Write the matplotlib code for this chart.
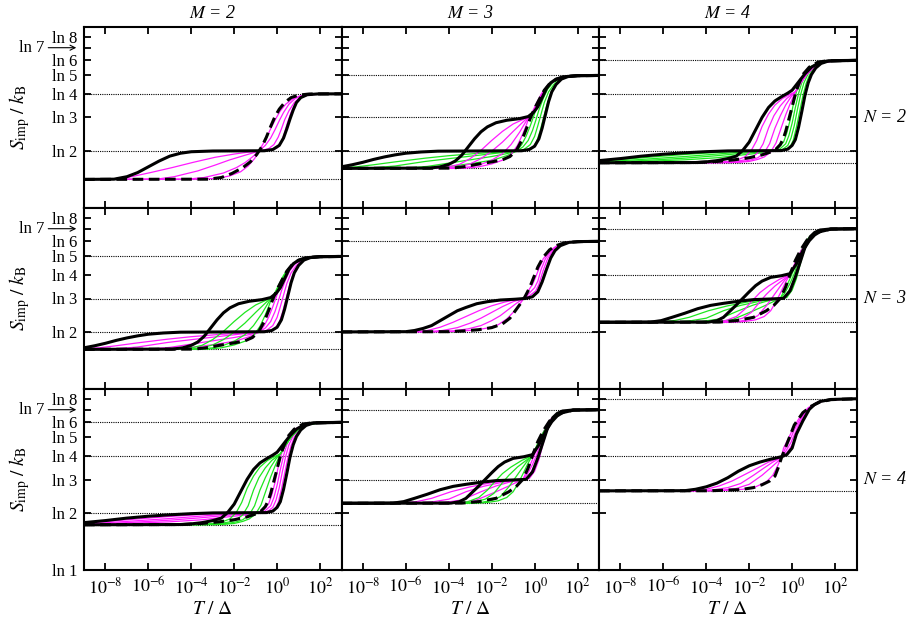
import numpy as np
import matplotlib
matplotlib.use("Agg")
import matplotlib.pyplot as plt

plt.rcParams['font.family'] = ['Liberation Serif', 'DejaVu Serif']
plt.rcParams['mathtext.fontset'] = 'stix'

#%% channel numbers and axis ticks
M_list = [2, 3, 4]
N_list = [2, 3, 4]
x_ticks = [1e-8, 1e-6, 1e-4, 1e-2, 1e0, 1e2]
x_ticklabels = [r'$10^{-8}$', r'$10^{-6}$', r'$10^{-4}$', r'$10^{-2}$', r'$10^{0}$', r'$10^{2}$']
y_tick_n = [1, 2, 3, 4, 5, 6, 7, 8]

#%% curves as (log10 T/Delta, S_imp/kB) pairs
# M = N = 2
lev22 = [np.log(4), np.log(2), 0.347]
sol22 = [(-9, .347), (-7.6, .35), (-7.0, .38), (-6.5, .43), (-6.0, .50), (-5.5, .57), (-5.0, .63), (-4.5, .665),
         (-4.0, .683), (-3.0, .692), (-0.6, .695), (-0.2, .71), (0.1, .76), (0.3, .85), (0.45, .96), (0.6, 1.08),
         (0.75, 1.19), (0.9, 1.28), (1.1, 1.34), (1.4, 1.375), (1.9, 1.385), (3, 1.386)]
dash22 = [(-9, .347), (-3.2, .35), (-2.6, .37), (-2.1, .42), (-1.6, .49), (-1.25, .56), (-0.95, .65), (-0.7, .75),
          (-0.5, .86), (-0.3, .99), (-0.1, 1.11), (0.1, 1.20), (0.35, 1.28), (0.65, 1.34), (1.0, 1.37), (1.5, 1.384),
          (3, 1.386)]
thin22 = [
    [(-9, .347), (-7.4, .35), (-6.8, .38), (-5.9, .43), (-4.9, .49), (-3.9, .555), (-2.9, .615), (-2.0, .655),
     (-1.3, .68), (-0.85, .69), (-0.3, .705), (0, .73), (0.2, .80), (0.35, .92), (0.5, 1.05), (0.65, 1.16),
     (0.85, 1.27), (1.1, 1.34), (1.5, 1.377), (3, 1.386)],
    [(-9, .347), (-5.6, .35), (-4.8, .38), (-3.7, .45), (-2.9, .52), (-2.2, .585), (-1.5, .64), (-0.85, .69),
     (-0.4, .72), (-0.15, .77), (0.05, .86), (0.2, .96), (0.35, 1.07), (0.55, 1.18), (0.8, 1.28), (1.05, 1.34),
     (1.5, 1.378), (3, 1.386)],
    [(-9, .347), (-4.2, .35), (-3.4, .37), (-2.5, .425), (-1.9, .49), (-1.5, .55), (-1.15, .62), (-0.85, .69),
     (-0.55, .76), (-0.3, .85), (-0.1, .95), (0.1, 1.06), (0.3, 1.16), (0.55, 1.26), (0.85, 1.33), (1.2, 1.368),
     (1.7, 1.383), (3, 1.386)],
    [(-9, .347), (-3.6, .35), (-2.8, .36), (-2.2, .39), (-1.7, .44), (-1.35, .51), (-1.05, .60), (-0.85, .69),
     (-0.65, .78), (-0.45, .88), (-0.25, .99), (-0.05, 1.09), (0.15, 1.18), (0.4, 1.26), (0.7, 1.32), (1.05, 1.36),
     (1.6, 1.382), (3, 1.386)],
]

# M, N = 3, 2 (and 2, 3)
lev32 = [np.log(5), np.log(3), np.log(2), 0.481]
sol32_a = [(-9, .50), (-8.5, .525), (-8, .555), (-7.5, .59), (-7, .62), (-6.5, .645), (-6, .665), (-5.3, .68),
           (-4.5, .69), (-0.6, .695), (-0.25, .71), (0, .75), (0.2, .84), (0.35, .97), (0.5, 1.13), (0.65, 1.29),
           (0.8, 1.41), (1.0, 1.50), (1.25, 1.565), (1.55, 1.595), (2, 1.606), (3, 1.609)]
sol32_b = [(-9, .481), (-4.9, .484), (-4.4, .50), (-4.0, .53), (-3.7, .57), (-3.4, .64), (-3.1, .74), (-2.8, .84),
           (-2.5, .925), (-2.2, .985), (-1.8, 1.035), (-1.3, 1.065), (-0.7, 1.085), (-0.3, 1.11), (-0.05, 1.16),
           (0.15, 1.23), (0.35, 1.34), (0.55, 1.45), (0.75, 1.52), (1.0, 1.565), (1.35, 1.593), (2, 1.607), (3, 1.609)]
dash32 = [(-9, .481), (-3.9, .484), (-3.3, .50), (-2.7, .53), (-2.0, .56), (-1.5, .585), (-1.15, .625), (-0.85, .70),
          (-0.6, .82), (-0.4, .95), (-0.2, 1.09), (0, 1.21), (0.2, 1.31), (0.45, 1.43), (0.7, 1.51), (1.0, 1.56),
          (1.4, 1.595), (2, 1.606), (3, 1.609)]
thin32_a = [
    [(-9, .49), (-8.3, .50), (-7.5, .525), (-6.5, .56), (-5.1, .605), (-4, .635), (-2.8, .66), (-1.6, .68),
     (-0.85, .69), (-0.4, .70), (-0.1, .73), (0.1, .81), (0.25, .93), (0.4, 1.08), (0.55, 1.23), (0.7, 1.36),
     (0.9, 1.47), (1.15, 1.55), (1.5, 1.594), (2, 1.606), (3, 1.609)],
    [(-9, .484), (-7.5, .488), (-6.5, .51), (-5.1, .565), (-3.8, .605), (-2.8, .635), (-1.6, .67), (-0.85, .69),
     (-0.5, .71), (-0.2, .77), (0, .87), (0.15, 1.0), (0.3, 1.14), (0.45, 1.28), (0.65, 1.41), (0.9, 1.50),
     (1.2, 1.565), (1.6, 1.598), (3, 1.609)],
    [(-9, .481), (-6, .484), (-5, .505), (-4, .545), (-3, .585), (-2, .625), (-1.3, .66), (-0.85, .69),
     (-0.55, .74), (-0.3, .82), (-0.1, .94), (0.05, 1.06), (0.2, 1.19), (0.4, 1.33), (0.6, 1.44), (0.85, 1.52),
     (1.2, 1.57), (1.6, 1.599), (3, 1.609)],
    [(-9, .481), (-4.7, .484), (-3.8, .51), (-2.8, .545), (-1.9, .585), (-1.3, .635), (-0.85, .69), (-0.6, .77),
     (-0.4, .87), (-0.2, 1.0), (-0.05, 1.11), (0.1, 1.23), (0.3, 1.36), (0.55, 1.47), (0.8, 1.53), (1.2, 1.575),
     (1.6, 1.6), (3, 1.609)],
]
thin32_b = [
    [(-9, .481), (-4.5, .484), (-4.0, .50), (-3.5, .53), (-3.0, .60), (-2.5, .70), (-2.0, .82), (-1.5, .93),
     (-1.0, 1.02), (-0.5, 1.08), (-0.25, 1.115), (0, 1.18), (0.2, 1.28), (0.45, 1.41), (0.7, 1.50), (1.0, 1.56),
     (1.4, 1.595), (3, 1.609)],
    [(-9, .481), (-4.0, .484), (-3.5, .50), (-3.0, .535), (-2.5, .60), (-2.0, .69), (-1.5, .80), (-1.0, .93),
     (-0.6, 1.03), (-0.25, 1.115), (-0.05, 1.17), (0.15, 1.27), (0.4, 1.40), (0.65, 1.49), (1.0, 1.56),
     (1.4, 1.595), (3, 1.609)],
    [(-9, .481), (-3.6, .484), (-3.0, .50), (-2.5, .53), (-2.0, .58), (-1.5, .66), (-1.1, .77), (-0.7, .92),
     (-0.45, 1.03), (-0.25, 1.115), (-0.1, 1.16), (0.1, 1.26), (0.35, 1.39), (0.6, 1.48), (1.0, 1.56),
     (1.4, 1.595), (3, 1.609)],
    [(-9, .481), (-3.2, .484), (-2.6, .50), (-2.0, .535), (-1.5, .58), (-1.1, .65), (-0.8, .76), (-0.55, .90),
     (-0.38, 1.01), (-0.25, 1.115), (-0.12, 1.16), (0.05, 1.25), (0.3, 1.38), (0.55, 1.47), (0.95, 1.555),
     (1.4, 1.595), (3, 1.609)],
]

# M, N = 4, 2 (and 2, 4)
lev42 = [np.log(6), np.log(4), np.log(2), 0.549]
sol42_a = [(-9, .575), (-8, .60), (-7, .63), (-6, .653), (-5, .67), (-4, .684), (-3, .693), (-0.5, .697),
           (-0.2, .715), (0, .76), (0.15, .83), (0.3, .98), (0.45, 1.17), (0.6, 1.37), (0.75, 1.52), (0.9, 1.62),
           (1.1, 1.70), (1.35, 1.755), (1.7, 1.785), (3, 1.792)]
sol42_b = [(-9, .549), (-4.5, .552), (-4.0, .56), (-3.5, .575), (-3, .60), (-2.6, .63), (-2.3, .70), (-2.0, .80),
           (-1.7, .95), (-1.4, 1.10), (-1.1, 1.22), (-0.8, 1.30), (-0.5, 1.35), (-0.2, 1.395), (0, 1.43),
           (0.3, 1.53), (0.6, 1.63), (0.9, 1.71), (1.2, 1.755), (1.6, 1.783), (2.2, 1.79), (3, 1.792)]
dash42 = [(-9, .549), (-4.4, .552), (-3.5, .565), (-2.7, .585), (-2.0, .61), (-1.4, .645), (-1.0, .68), (-0.75, .715),
          (-0.55, .77), (-0.4, .85), (-0.3, .93), (-0.15, 1.08), (0, 1.23), (0.15, 1.38), (0.3, 1.50), (0.5, 1.62),
          (0.8, 1.71), (1.2, 1.77), (1.6, 1.786), (3, 1.792)]
thin42_a = [
    [(-9, .565), (-7, .61), (-5, .65), (-3.5, .675), (-2.3, .69), (-1.0, .695), (-0.4, .70), (-0.1, .74),
     (0.05, .82), (0.2, .98), (0.35, 1.17), (0.5, 1.36), (0.65, 1.51), (0.8, 1.61), (1.0, 1.69), (1.3, 1.75),
     (1.7, 1.785), (3, 1.792)],
    [(-9, .557), (-7, .59), (-5, .625), (-3.5, .655), (-2.3, .68), (-1.2, .69), (-0.5, .70), (-0.2, .76),
     (-0.05, .85), (0.1, 1.0), (0.25, 1.2), (0.4, 1.38), (0.55, 1.52), (0.75, 1.63), (1.0, 1.70), (1.3, 1.755),
     (1.7, 1.786), (3, 1.792)],
    [(-9, .553), (-7, .575), (-5, .605), (-3.5, .635), (-2.3, .665), (-1.2, .685), (-0.6, .71), (-0.3, .78),
     (-0.15, .88), (0, 1.03), (0.15, 1.22), (0.3, 1.39), (0.45, 1.52), (0.65, 1.63), (0.95, 1.71), (1.3, 1.76),
     (1.7, 1.787), (3, 1.792)],
    [(-9, .55), (-7, .565), (-5, .585), (-3.5, .61), (-2.3, .645), (-1.2, .675), (-0.7, .715), (-0.4, .80),
     (-0.25, .91), (-0.1, 1.06), (0.05, 1.25), (0.2, 1.41), (0.35, 1.52), (0.55, 1.63), (0.9, 1.72), (1.3, 1.765),
     (1.7, 1.788), (3, 1.792)],
]
thin42_b = [
    [(-9, .549), (-3.6, .552), (-3.0, .565), (-2.5, .59), (-2.2, .62), (-1.9, .70), (-1.65, .82), (-1.4, .99),
     (-1.1, 1.14), (-0.8, 1.25), (-0.45, 1.33), (-0.1, 1.38), (0.15, 1.41), (0.4, 1.52), (0.7, 1.63), (1.0, 1.71),
     (1.4, 1.765), (2, 1.788), (3, 1.792)],
    [(-9, .549), (-3.2, .552), (-2.6, .565), (-2.2, .585), (-1.9, .61), (-1.6, .67), (-1.35, .78), (-1.1, .97),
     (-0.85, 1.12), (-0.55, 1.24), (-0.25, 1.33), (0.15, 1.41), (0.4, 1.52), (0.7, 1.63), (1.0, 1.71),
     (1.4, 1.765), (2, 1.788), (3, 1.792)],
    [(-9, .549), (-2.9, .552), (-2.3, .565), (-1.9, .585), (-1.6, .61), (-1.3, .67), (-1.05, .78), (-0.8, .97),
     (-0.55, 1.12), (-0.3, 1.25), (-0.05, 1.35), (0.15, 1.41), (0.4, 1.52), (0.7, 1.63), (1.0, 1.71),
     (1.4, 1.765), (2, 1.788), (3, 1.792)],
    [(-9, .549), (-2.6, .552), (-2.0, .565), (-1.6, .59), (-1.3, .62), (-1.0, .68), (-0.75, .79), (-0.5, .98),
     (-0.3, 1.13), (-0.1, 1.26), (0.05, 1.35), (0.15, 1.41), (0.4, 1.52), (0.7, 1.63), (1.0, 1.71),
     (1.4, 1.765), (2, 1.788), (3, 1.792)],
]

# M = N = 3
lev33 = [np.log(6), np.log(3), np.log(2)]
sol33 = [(-9, .693), (-6.0, .696), (-5.6, .71), (-5.2, .735), (-4.8, .77), (-4.4, .83), (-4.0, .89), (-3.6, .95),
         (-3.2, .99), (-2.7, 1.035), (-2.2, 1.06), (-1.6, 1.08), (-0.9, 1.09), (-0.4, 1.10), (-0.1, 1.12),
         (0.15, 1.18), (0.35, 1.30), (0.55, 1.45), (0.75, 1.59), (0.95, 1.68), (1.2, 1.74), (1.6, 1.78), (2.2, 1.79),
         (3, 1.792)]
dash33 = [(-9, .693), (-4.0, .696), (-3.3, .705), (-2.6, .72), (-2.0, .745), (-1.5, .79), (-1.15, .86), (-0.9, .95),
          (-0.65, 1.04), (-0.45, 1.12), (-0.25, 1.22), (-0.05, 1.35), (0.15, 1.48), (0.4, 1.60), (0.7, 1.69),
          (1.0, 1.74), (1.4, 1.775), (2, 1.789), (3, 1.792)]
thin33 = [
    [(-9, .693), (-5.6, .696), (-5.0, .71), (-4.4, .75), (-3.8, .81), (-3.2, .88), (-2.6, .95), (-2.0, 1.01),
     (-1.4, 1.055), (-0.9, 1.085), (-0.5, 1.10), (-0.2, 1.11), (0.1, 1.16), (0.3, 1.28), (0.5, 1.44), (0.7, 1.58),
     (0.9, 1.67), (1.2, 1.74), (1.6, 1.78), (3, 1.792)],
    [(-9, .693), (-5.0, .696), (-4.3, .71), (-3.6, .745), (-3.0, .80), (-2.5, .86), (-2.0, .93), (-1.5, 1.0),
     (-1.0, 1.06), (-0.5, 1.10), (-0.25, 1.13), (0.05, 1.19), (0.2, 1.27), (0.4, 1.44), (0.6, 1.58), (0.85, 1.68),
     (1.2, 1.745), (1.6, 1.78), (3, 1.792)],
    [(-9, .693), (-4.6, .696), (-3.8, .705), (-3.1, .73), (-2.5, .77), (-2.0, .83), (-1.6, .89), (-1.2, .97),
     (-0.85, 1.04), (-0.5, 1.10), (-0.3, 1.15), (0, 1.23), (0.15, 1.31), (0.3, 1.45), (0.5, 1.58), (0.75, 1.67),
     (1.1, 1.74), (1.6, 1.782), (3, 1.792)],
    [(-9, .693), (-4.3, .696), (-3.5, .702), (-2.8, .715), (-2.2, .74), (-1.7, .78), (-1.3, .85), (-1.0, .93),
     (-0.75, 1.01), (-0.5, 1.10), (-0.35, 1.17), (-0.1, 1.27), (0.05, 1.36), (0.2, 1.46), (0.4, 1.58),
     (0.7, 1.68), (1.05, 1.74), (1.5, 1.78), (3, 1.792)],
]

# M, N = 4, 3 (and 3, 4)
lev43 = [np.log(7), np.log(4), np.log(3), 0.810]
sol43_a = [(-9, .81), (-6.6, .812), (-6.1, .83), (-5.6, .87), (-5.0, .92), (-4.4, .975), (-3.8, 1.015), (-3.2, 1.04),
           (-2.5, 1.065), (-1.8, 1.085), (-1.0, 1.093), (-0.4, 1.10), (-0.1, 1.19), (0.15, 1.36), (0.4, 1.56),
           (0.6, 1.72), (0.85, 1.85), (1.05, 1.90), (1.3, 1.93), (1.8, 1.943), (3, 1.946)]
sol43_b = [(-9, .81), (-3.9, .812), (-3.5, .83), (-3.2, .87), (-2.9, .945), (-2.6, 1.02), (-2.3, 1.10), (-2.0, 1.18),
           (-1.7, 1.255), (-1.4, 1.31), (-1.0, 1.355), (-0.5, 1.375), (-0.1, 1.40), (0.2, 1.52), (0.5, 1.68),
           (0.8, 1.80), (1.05, 1.87), (1.3, 1.91), (1.8, 1.94), (3, 1.946)]
dash43 = [(-9, .81), (-3.4, .812), (-2.6, .83), (-1.8, .87), (-1.2, .95), (-0.85, 1.016), (-0.55, 1.10), (-0.3, 1.24),
          (-0.1, 1.39), (0.15, 1.56), (0.4, 1.69), (0.7, 1.81), (1.15, 1.90), (1.8, 1.942), (3, 1.946)]
thin43_a = [
    [(-9, .81), (-6.2, .812), (-5.5, .83), (-4.8, .87), (-3.9, .95), (-3.0, 1.01), (-2.0, 1.06), (-1.2, 1.085),
     (-0.55, 1.10), (-0.25, 1.11), (0, 1.20), (0.2, 1.34), (0.37, 1.51), (0.55, 1.67), (0.75, 1.79), (1.0, 1.87),
     (1.3, 1.92), (1.8, 1.94), (3, 1.946)],
    [(-9, .81), (-5.6, .812), (-4.8, .825), (-4.0, .86), (-3.2, .95), (-2.4, 1.015), (-1.6, 1.06), (-1.0, 1.085),
     (-0.55, 1.10), (-0.3, 1.13), (-0.05, 1.24), (0.15, 1.37), (0.32, 1.53), (0.5, 1.67), (0.7, 1.79),
     (0.95, 1.87), (1.3, 1.92), (1.8, 1.941), (3, 1.946)],
    [(-9, .81), (-5.0, .812), (-4.2, .82), (-3.4, .85), (-2.5, .95), (-1.8, 1.02), (-1.2, 1.065), (-0.55, 1.10),
     (-0.35, 1.16), (-0.1, 1.28), (0.1, 1.40), (0.27, 1.54), (0.45, 1.67), (0.65, 1.78), (0.9, 1.86),
     (1.25, 1.92), (1.8, 1.941), (3, 1.946)],
    [(-9, .81), (-4.5, .812), (-3.6, .818), (-2.8, .84), (-1.8, .95), (-1.2, 1.02), (-0.8, 1.07), (-0.55, 1.10),
     (-0.4, 1.18), (-0.15, 1.31), (0.05, 1.43), (0.22, 1.55), (0.4, 1.67), (0.6, 1.78), (0.85, 1.86),
     (1.2, 1.915), (1.8, 1.941), (3, 1.946)],
]
thin43_b = [
    [(-9, .81), (-3.6, .812), (-3.1, .83), (-2.6, .88), (-2.2, .97), (-1.9, 1.06), (-1.5, 1.17), (-1.1, 1.25),
     (-0.6, 1.33), (-0.1, 1.39), (0.15, 1.51), (0.4, 1.64), (0.7, 1.78), (1.0, 1.87), (1.4, 1.925), (2, 1.943),
     (3, 1.946)],
    [(-9, .81), (-3.3, .812), (-2.8, .825), (-2.3, .86), (-1.9, .93), (-1.5, 1.06), (-1.2, 1.15), (-0.8, 1.25),
     (-0.4, 1.33), (-0.1, 1.39), (0.15, 1.52), (0.4, 1.65), (0.7, 1.79), (1.0, 1.87), (1.4, 1.925), (2, 1.943),
     (3, 1.946)],
    [(-9, .81), (-3.0, .812), (-2.5, .82), (-2.0, .845), (-1.6, .89), (-1.2, 1.01), (-0.9, 1.12), (-0.6, 1.23),
     (-0.35, 1.32), (-0.1, 1.39), (0.15, 1.53), (0.4, 1.66), (0.7, 1.79), (1.0, 1.87), (1.4, 1.925), (2, 1.943),
     (3, 1.946)],
    [(-9, .81), (-2.8, .812), (-2.2, .82), (-1.7, .84), (-1.3, .88), (-1.0, .95), (-0.75, 1.06), (-0.5, 1.19),
     (-0.3, 1.30), (-0.1, 1.39), (0.15, 1.54), (0.4, 1.67), (0.7, 1.80), (1.0, 1.875), (1.4, 1.927), (2, 1.944),
     (3, 1.946)],
]

# M = N = 4
lev44 = [np.log(8), np.log(4), 0.961]
sol44 = [(-9, .961), (-5.0, .963), (-4.5, .98), (-4.0, 1.01), (-3.5, 1.055), (-3.0, 1.12), (-2.5, 1.20),
         (-2.0, 1.265), (-1.5, 1.31), (-1.0, 1.345), (-0.5, 1.375), (-0.25, 1.40), (0, 1.48), (0.2, 1.65),
         (0.5, 1.81), (0.8, 1.95), (1.05, 2.01), (1.3, 2.045), (1.8, 2.07), (3, 2.079)]
dash44 = [(-9, .961), (-3.8, .962), (-2.4, .976), (-1.8, 1.0), (-1.4, 1.035), (-1.05, 1.08), (-0.8, 1.14),
          (-0.65, 1.24), (-0.5, 1.36), (-0.2, 1.56), (0.1, 1.76), (0.5, 1.91), (0.9, 1.99), (1.3, 2.04), (1.8, 2.068),
          (3, 2.079)]
thin44 = [
    [(-9, .961), (-4.6, .963), (-4.0, .98), (-3.4, 1.02), (-2.8, 1.08), (-2.2, 1.16), (-1.6, 1.24), (-1.1, 1.31),
     (-0.5, 1.37), (-0.25, 1.42), (0, 1.52), (0.2, 1.64), (0.4, 1.78), (0.6, 1.89), (0.85, 1.97), (1.2, 2.035),
     (1.7, 2.066), (3, 2.079)],
    [(-9, .961), (-4.2, .963), (-3.6, .975), (-3.0, 1.0), (-2.4, 1.05), (-1.8, 1.15), (-1.3, 1.24), (-0.9, 1.31),
     (-0.5, 1.37), (-0.3, 1.44), (-0.05, 1.55), (0.15, 1.67), (0.35, 1.79), (0.55, 1.89), (0.8, 1.97),
     (1.2, 2.035), (1.7, 2.066), (3, 2.079)],
    [(-9, .961), (-3.9, .963), (-3.2, .97), (-2.6, .99), (-2.0, 1.04), (-1.4, 1.15), (-1.0, 1.24), (-0.7, 1.31),
     (-0.5, 1.37), (-0.35, 1.46), (-0.1, 1.58), (0.1, 1.70), (0.3, 1.80), (0.5, 1.89), (0.8, 1.97), (1.2, 2.036),
     (1.7, 2.066), (3, 2.079)],
    [(-9, .961), (-3.7, .963), (-3.0, .968), (-2.3, .98), (-1.7, 1.01), (-1.2, 1.07), (-0.9, 1.15), (-0.7, 1.25),
     (-0.5, 1.37), (-0.4, 1.48), (-0.15, 1.61), (0.05, 1.72), (0.25, 1.81), (0.45, 1.89), (0.75, 1.97),
     (1.2, 2.037), (1.7, 2.067), (3, 2.079)],
]

# (hi, lo) -> levels, solid via ln lo, solid via ln hi, dashed, thin family near each solid
panels = {
    (2, 2): (lev22, sol22, None, dash22, thin22, None),
    (3, 2): (lev32, sol32_a, sol32_b, dash32, thin32_a, thin32_b),
    (4, 2): (lev42, sol42_a, sol42_b, dash42, thin42_a, thin42_b),
    (3, 3): (lev33, sol33, None, dash33, thin33, None),
    (4, 3): (lev43, sol43_a, sol43_b, dash43, thin43_a, thin43_b),
    (4, 4): (lev44, sol44, None, dash44, thin44, None),
}

MAGENTA = '#ff1aff'
GREEN = '#1ee61e'


def draw(ax, pts, **kw):
    lx, s = zip(*pts)
    ax.plot(10.0 ** np.array(lx), s, **kw)


#%% figure
fig = plt.figure(figsize=(9.09, 6.24), dpi=100)
W, H = 909, 624
x0, y_top = 84, 27
pw, ph = 257.5, 181

for r, N in enumerate(N_list):
    for c, M in enumerate(M_list):
        left = (x0 + c * pw) / W
        bottom = 1 - (y_top + (r + 1) * ph) / H
        ax = fig.add_axes([left, bottom, pw / W, ph / H])
        hi, lo = max(M, N), min(M, N)
        lev, sol_a, sol_b, dash, fam_a, fam_b = panels[(hi, lo)]

        for v in lev:
            ax.axhline(v, color='k', lw=0.8, ls=(0, (1, 1)), zorder=1)

        if M == N:
            fams = [(fam_a, MAGENTA)]
        elif M > N:
            fams = [(fam_a, GREEN), (fam_b, MAGENTA)]
        else:
            fams = [(fam_a, MAGENTA), (fam_b, GREEN)]
        for fam, col in fams:
            for pts in fam:
                draw(ax, pts, color=col, lw=0.9, zorder=2)

        for sol in (sol_a, sol_b):
            if sol is not None:
                draw(ax, sol, color='k', lw=2.2, zorder=4)
        draw(ax, dash, color='k', lw=2.2, dashes=(3.5, 1.8), zorder=3)

        ax.set_xscale('log')
        ax.set_xlim(1e-9, 1e3)
        ax.set_ylim(0, np.log(9))
        ax.minorticks_off()
        ax.set_xticks(x_ticks)
        ax.set_yticks([np.log(n) for n in y_tick_n])
        ax.tick_params(which='both', direction='in', top=True, right=True, length=5, width=1.3, pad=5)
        ax.tick_params(axis='x', labelsize=13)
        ax.tick_params(axis='y', labelsize=12)
        for sp in ax.spines.values():
            sp.set_linewidth(1.5)

        if r == 2:
            ax.set_xticklabels(x_ticklabels)
        else:
            ax.set_xticklabels([])
        if c == 0:
            ylabels = ['ln %d' % n for n in y_tick_n]
            ylabels[6] = ''
            if r != 2:
                ylabels[0] = ''
            ax.set_yticklabels(ylabels)
            ax.annotate('ln 7', xy=(-0.03, np.log(7)), xycoords=('axes fraction', 'data'),
                        xytext=(-0.155, np.log(7)), textcoords=('axes fraction', 'data'),
                        ha='right', va='center', fontsize=12,
                        arrowprops=dict(arrowstyle='->', lw=0.8, shrinkA=1, shrinkB=0,
                                        mutation_scale=9))
        else:
            ax.set_yticklabels([])

# column / row labels
for c, M in enumerate(M_list):
    xc = (x0 + (c + 0.5) * pw) / W
    fig.text(xc, 1 - 13 / H, '$M$ = %d' % M, ha='center', va='center', fontsize=13, style='italic')
    fig.text(xc, 1 - 609 / H, r'$T\ /\ \Delta$', ha='center', va='center', fontsize=14)
for r, N in enumerate(N_list):
    yc = 1 - (y_top + (r + 0.5) * ph) / H
    fig.text(863 / W, yc, '$N$ = %d' % N, ha='left', va='center', fontsize=13, style='italic')
    fig.text(20 / W, yc, r'$S_{\rm imp}\ /\ k_{\rm B}$', ha='center', va='center', fontsize=14, rotation=90)

fig.savefig('out.png', dpi=100)
